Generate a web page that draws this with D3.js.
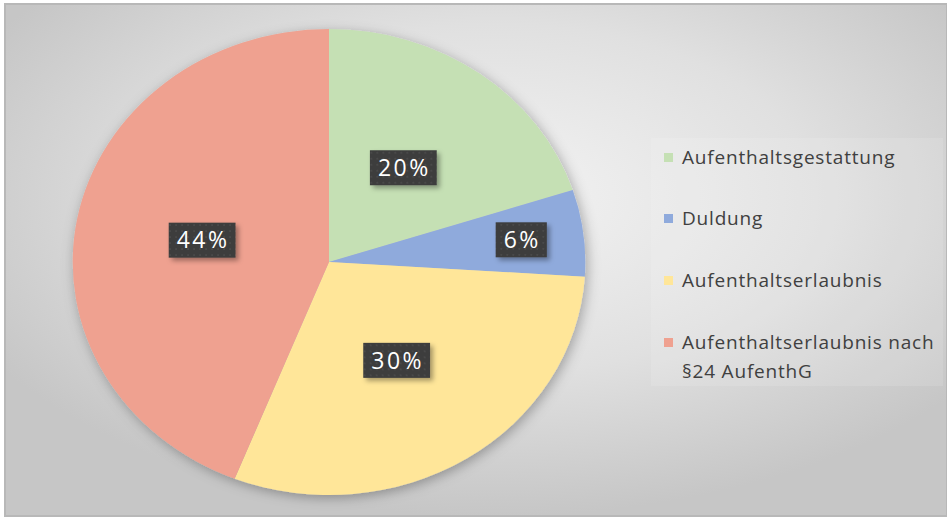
<!DOCTYPE html>
<html>
<head>
<meta charset="utf-8">
<script src="https://cdn.jsdelivr.net/npm/d3@7"></script>
<style>
  body { margin: 0; background: #fff; }
  svg { display: block; }
</style>
</head>
<body>
<div id="chart"></div>
<script>
var width = 947;
var height = 517;

// data
var categories = ["Aufenthaltsgestattung", "Duldung", "Aufenthaltserlaubnis", "Aufenthaltserlaubnis nach §24 AufenthG"];
var shares = [20, 6, 30, 44];
var colors = ["#c5e0b4", "#8faadc", "#ffe699", "#efa190"];

var cx = 329, cy = 262;   // pie centre
var radius = 233;
var sx = 1.1;             // the picture is stretched sideways

var svg = d3.select("#chart")
    .append("svg")
    .attr("width", width)
    .attr("height", height);

var defs = svg.append("defs");

// background: soft radial grey
var bg = defs.append("radialGradient")
    .attr("id", "bg")
    .attr("cx", 0.52).attr("cy", 0.38).attr("r", 0.62);
bg.append("stop").attr("offset", "0%").attr("stop-color", "#f3f3f3");
bg.append("stop").attr("offset", "55%").attr("stop-color", "#e0e0e0");
bg.append("stop").attr("offset", "100%").attr("stop-color", "#c6c6c6");

var shadow = defs.append("filter").attr("id", "shadow")
    .attr("x", "-20%").attr("y", "-20%").attr("width", "140%").attr("height", "140%");
shadow.append("feDropShadow")
    .attr("dx", 2).attr("dy", 3).attr("stdDeviation", 6)
    .attr("flood-color", "#000").attr("flood-opacity", 0.3);

var boxShadow = defs.append("filter").attr("id", "boxshadow")
    .attr("x", "-30%").attr("y", "-30%").attr("width", "160%").attr("height", "160%");
boxShadow.append("feDropShadow")
    .attr("dx", 3).attr("dy", 3).attr("stdDeviation", 2.5)
    .attr("flood-color", "#000").attr("flood-opacity", 0.35);

// dotted texture of the label boxes
var dots = defs.append("pattern")
    .attr("id", "dots")
    .attr("width", 6).attr("height", 6)
    .attr("patternUnits", "userSpaceOnUse");
dots.append("rect").attr("width", 6).attr("height", 6).attr("fill", "#3c3c3c");
dots.append("circle").attr("cx", 3).attr("cy", 3).attr("r", 1).attr("fill", "#4c4c4c");

svg.append("rect")
    .attr("x", 5).attr("y", 4)
    .attr("width", width - 5).attr("height", height - 5)
    .attr("fill", "url(#bg)")
    .attr("stroke", "#b8b8b8")
    .attr("stroke-width", 2);

var pie = d3.pie().sort(null).value(function (d) { return d; });
var arcs = pie(shares);

var arc = d3.arc().innerRadius(0).outerRadius(radius);

var pieG = svg.append("g")
    .attr("transform", "translate(" + cx + "," + cy + ") scale(" + sx + ",1)")
    .attr("filter", "url(#shadow)");

pieG.selectAll("path")
    .data(arcs)
    .enter()
    .append("path")
    .attr("d", arc)
    .attr("fill", function (d, i) { return colors[i]; });

// labels sit at half radius, the thin slice further out
var labels = svg.append("g").attr("transform", "translate(" + cx + "," + cy + ")");

var label = labels.selectAll(".lbl")
    .data(arcs)
    .enter()
    .append("g")
    .attr("class", "lbl")
    .attr("transform", function (d) {
        var f = d.value < 10 ? 1.52 : 1;
        var c = d3.arc().innerRadius(0).outerRadius(radius * f).centroid(d);
        return "translate(" + (c[0] * sx) + "," + c[1] + ")";
    });

label.append("text")
    .attr("text-anchor", "middle")
    .attr("dy", "0.36em")
    .attr("fill", "#fff")
    .style("font-family", "'Open Sans', sans-serif")
    .style("font-size", "23px")
    .style("letter-spacing", "2.5px")
    .text(function (d) { return d.value + "%"; });

label.each(function () {
    var g = d3.select(this);
    var bb = g.select("text").node().getBBox();
    g.insert("rect", "text")
        .attr("x", bb.x - 8)
        .attr("y", -17.5)
        .attr("width", bb.width + 14)
        .attr("height", 35)
        .attr("fill", "url(#dots)")
        .attr("filter", "url(#boxshadow)");
});

// legend
var legend = svg.append("g");

legend.append("rect")
    .attr("x", 651).attr("y", 138)
    .attr("width", 292).attr("height", 248)
    .attr("fill", "#fff")
    .attr("fill-opacity", 0.12);

var rowY = [157, 218, 280, 342];

var item = legend.selectAll(".item")
    .data(categories)
    .enter()
    .append("g")
    .attr("class", "item")
    .attr("transform", function (d, i) { return "translate(664," + rowY[i] + ")"; });

item.append("rect")
    .attr("x", 0).attr("y", -4)
    .attr("width", 9).attr("height", 9)
    .attr("fill", function (d, i) { return colors[i]; });

item.append("text")
    .attr("x", 18)
    .attr("fill", "#404040")
    .style("font-family", "'Open Sans', sans-serif")
    .style("font-size", "19px")
    .style("letter-spacing", "0.8px")
    .each(function (d) {
        // wrap long names like the original legend
        var t = d3.select(this);
        var words = d.split(" ");
        var line = [];
        var tspan = t.append("tspan").attr("x", 18).attr("dy", "0.35em");
        words.forEach(function (w) {
            line.push(w);
            tspan.text(line.join(" "));
            if (tspan.node().getComputedTextLength() > 262 && line.length > 1) {
                line.pop();
                tspan.text(line.join(" "));
                line = [w];
                tspan = t.append("tspan").attr("x", 18).attr("dy", "29px").text(w);
            }
        });
    });
</script>
</body>
</html>
